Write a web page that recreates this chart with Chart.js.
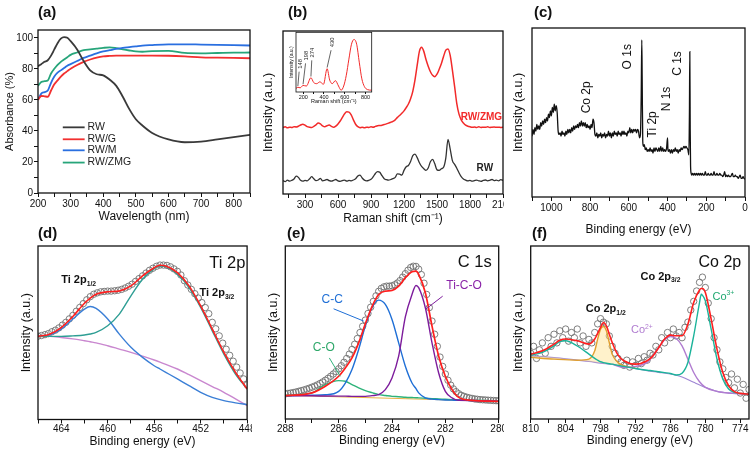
<!DOCTYPE html>
<html lang="en">
<head>
<meta charset="UTF-8">
<title>Absorbance, Raman and XPS panels</title>
<script src="https://cdn.jsdelivr.net/npm/chart.js"></script>
<style>
  body { margin: 0; background: #fff; }
  #wrap { position: relative; width: 756px; height: 458px; overflow: hidden; background: #fff; }
  canvas { position: absolute; }
</style>
</head>
<body>
<div id="wrap">
  <canvas id="ca" width="252" height="229" style="left:0;top:0"></canvas>
  <canvas id="cb" width="252" height="229" style="left:252px;top:0"></canvas>
  <canvas id="cbi" width="96" height="76" style="left:283px;top:29px"></canvas>
  <canvas id="cc" width="252" height="240" style="left:504px;top:0"></canvas>
  <canvas id="cd" width="252" height="236" style="left:0;top:222px"></canvas>
  <canvas id="ce" width="252" height="236" style="left:252px;top:222px"></canvas>
  <canvas id="cf" width="252" height="236" style="left:504px;top:222px"></canvas>
</div>
<script>
// (a) absorbance
const wl = [200,210,220,230,240,250,260,270,280,290,300,320,340,360,380,400,420,440,460,480,500,520,550,600,650,700,750,800,850];
const absRW  = [81.7,83,84.5,85.5,88.5,92.5,96.5,99.4,100.4,100,97.8,92.5,85,79,76.5,75.8,73,69,62,54,47.5,43.5,38.7,34.5,32.7,33.1,34.5,36,37.5];
const absG   = [60,62.5,62.3,62,66,70,72.5,75,77,78.5,80,82.5,84.5,86,87.2,88,88.3,88.5,88.5,88.5,88.5,88.5,88.5,88.4,88,87.4,87.2,87,86.8];
const absM   = [60,64,65,66,71,75,77.5,79,80.5,82,83,85,87,88.5,90,91.2,92,92.8,93.5,94,94.5,95,95.3,95.7,95.8,95.6,95.4,95.2,95];
const absZMG = [69,71.5,72,72.5,77,80,82.5,84.5,86,87.5,89,90.5,92,92.5,93,93.5,93.8,93.3,92.5,91.8,91.2,91,91.4,91.6,90.2,90,90.2,90.4,90.5];
const absNames = ['RW', 'RW/G', 'RW/M', 'RW/ZMG'];

// (b) Raman
const ramanX = [100,120,140,160,180,200,220,240,260,280,300,320,340,360,380,400,420,440,460,480,500,520,540,560,580,600,620,640,660,680,700,720,740,760,780,800,820,840,860,880,900,920,940,960,980,1000,1020,1040,1060,1080,1100,1120,1140,1160,1180,1200,1220,1240,1260,1280,1300,1320,1340,1360,1380,1400,1420,1440,1460,1480,1500,1520,1540,1560,1580,1600,1620,1640,1660,1680,1700,1720,1740,1760,1780,1800,1820,1840,1860,1880,1900,1920,1940,1960,1980,2000,2020,2040,2060,2080,2100];
const ramanRW = [8.2,7.6,8.5,7.9,8.4,9.2,11,10.2,8.4,7.9,8.3,8.1,9.2,10.6,9.3,8.2,8.6,9.6,8.1,8.4,8.9,8.2,7.9,8.3,8.9,8.1,7.8,8.2,8.5,7.9,8.3,8.1,8.6,9.3,11,11.6,9.8,8.5,8.1,8.4,9,10.6,12.6,13.7,13.3,11.2,9.4,8.8,8.5,8.9,9.4,10.2,12.3,12.2,11.6,14.5,16.7,17.5,20,23.5,24.5,22.3,19.2,16.9,15.5,14.5,16,19.8,21.2,18.5,14.8,14.5,15.5,16.4,22,33.5,27.5,20.5,18.2,15.8,13,10.6,9.2,8.5,8,8.3,7.9,8.2,8.5,8.1,7.8,8.3,8.6,8.1,8.4,8.9,8.2,8.5,8.1,8.8,8.4];
const ramanZMG = [40.8,41.2,40.6,41,40.8,41.3,41.1,41.6,42.3,42.8,42.2,41.3,41,40.8,41.5,42.4,43.5,43,41.8,41.2,41.9,42.3,41.5,40.9,41.6,43,44.8,47,49.2,50.4,50.2,48.5,45.5,42.8,41.3,40.7,40.9,40.6,41,40.8,41.2,41,41.5,41.9,42,42.2,42.6,43,43.5,44,44.6,45.5,47,48.2,49.5,51,53,55.2,58.5,63,70,79,87.5,90,87.5,82.5,78.4,75,72.8,72,73.5,76.5,80,84.5,88.2,89,85,76,66,55.5,49,45.5,43.5,42.2,41.6,41.2,40.9,41.1,40.8,41.2,40.8,41,40.9,41.2,40.8,41,41.1,40.9,41,40.8,41];
const insetX = [130,148,170,198,230,274,300,330,360,395,430,455,480,510,540,565,590,615,640,665,690,715,740,765,790,820,860];
const insetY = [6,8,7,11,10,24,16,14,17,13,39,20,14,19,10,3,10,28,55,80,88,80,50,22,9,4,3];
const insetPeaks = ['148', '198', '274', '430'];

// (c) XPS survey
const surveyBE = [1100,1095,1090,1085,1080,1075,1070,1065,1060,1055,1050,1045,1040,1035,1030,1025,1020,1015,1010,1005,1000,995,990,985,980,975,970,965,960,955,950,945,940,935,930,925,920,915,910,905,900,895,890,885,880,875,870,865,860,855,850,845,840,835,830,825,820,815,810,805,800,795,790,785,780,775,770,765,760,755,750,745,740,735,730,725,720,715,710,705,700,695,690,685,680,675,670,665,660,655,650,645,640,635,630,625,620,615,610,605,600,595,590,585,580,575,570,565,560,555,550,545,540,536,533,531,528,525,520,515,510,505,500,495,490,485,480,475,470,465,460,455,450,445,440,435,430,425,420,415,410,405,400,398,395,390,385,380,375,370,365,360,355,350,345,340,335,330,325,320,315,310,305,300,295,290,287,285,283,281,278,275,270,265,260,255,250,245,240,235,230,225,220,215,210,205,200,195,190,185,180,175,170,165,160,155,150,145,140,135,130,125,120,115,110,105,100,95,90,85,80,75,70,65,60,55,50,45,40,35,30,25,20,15,10,5,0];
const surveyInt = [36,40,37,41,39,43,40,42,40,44,42,45,43,46,44,47,45,49,47,51,48,53,50,55,51,54,50,39,37,38,36,39,37,38,36,39,37,40,38,40,38,41,39,42,40,42,41,43,41,44,42,45,42,44,42,44,41,43,41,42,40,43,41,46,44,37,36,38,35,37,36,38,35,37,36,38,35,37,36,39,36,38,35,38,36,39,37,38,36,39,37,38,36,39,37,39,37,38,36,39,38,41,38,40,38,40,39,40,38,40,39,35,37,60,93,70,33,30,31,28,29,27,28,27,29,27,28,26,29,27,29,28,27,29,27,30,27,29,27,28,27,29,35,28,27,28,26,28,26,28,27,29,27,28,26,28,27,29,28,29,30,29,30,29,28,25,50,86,40,18,14,13,14,13,14,13,14,13,14,13,14,13,14,13,13,15,13,13,14,13,13,14,13,13,15,13,13,14,13,13,14,13,13,12,13,15,12,13,12,13,12,12,13,14,12,12,13,12,12,11,12,13,11,11,12,11,10.5];

// (d) Ti 2p
const tiFitX = [466,465,464,463,462,461.5,461,460,459,458,457,456,455.5,455,454,453,452,451,450,449,448];
const tiEnv  = [47.9,49.2,53,59.4,67,70,72.2,73.6,74.1,77,82.8,87.5,88.9,88.5,84.7,77,65.5,52.1,38.7,27.2,17.6];
const ti2p12 = [47.9,48.7,52.1,57.9,63.6,65.1,64,57.9,49.2,41.6,35.8,31,29.1,27.2,23.4,19.5,15.7,12.8,10.9,9.6,8.6];
const ti2p32 = [47.9,47.9,47.9,48.2,48.7,49.3,50.2,54,60.7,71.3,80.8,87,88.5,88.1,83.7,76,64.6,51.1,37.7,26.2,17.6];
const tiBg   = [47.9,47.9,47.3,46.5,45.4,44.8,44.2,42.5,40.6,38.7,36.5,34.3,33.1,31.8,29.1,25.8,22.4,19,15.7,11.9,8];
const tiDotX = [466,465.7,465.4,465.1,464.8,464.5,464.2,463.9,463.6,463.3,463,462.7,462.4,462.1,461.8,461.5,461.2,460.9,460.6,460.3,460,459.7,459.4,459.1,458.8,458.5,458.2,457.9,457.6,457.3,457,456.7,456.4,456.1,455.8,455.5,455.2,454.9,454.6,454.3,454,453.7,453.4,453.1,452.8,452.5,452.2,451.9,451.6,451.3,451,450.7,450.4,450.1,449.8,449.5,449.2,448.9,448.6,448.3,448];
const tiDotY = [48,48.4,48.9,49.5,50.6,51.5,52.8,54.4,56,58,60,62.4,64.6,66.8,69,70.8,72.2,73,73.6,73.8,74,74,74.2,74.5,75,75.8,76.8,78,79.6,81.2,82.8,84.4,86,87.2,88.3,89,89,88.8,88,86.8,85.4,83.3,80,77.5,75,72.5,70,67.4,64.5,61,56,52.3,48.2,44,40.5,37,33.6,30.2,26.8,23.4,20];

// (e) C 1s
const cFitX = [288,287,286.5,286,285.75,285.5,285.25,285,284.75,284.5,284.25,284,283.75,283.5,283.25,283.1,283,282.75,282.5,282.25,282,281.75,281.5,281,280];
const cEnv  = [13.5,15.1,18.9,24.7,29.5,35.3,44,55,65,72,73.9,74.3,76.8,81.7,85.1,85.5,83.6,73,53.7,36.3,24.7,17,12.5,10.8,10.2];
const cCC   = [13.5,13.8,14,16,20.8,28.6,40.2,53.7,64.3,68.7,66.2,57.5,44,30.5,20.8,17.5,15.1,12.2,11.5,11.2,11,10.9,10.8,10.7,10.2];
const cTiCO = [13.5,13.4,13.3,13.2,13.2,13.1,13.1,13.1,13.5,14.1,17,23.7,36.3,59,72,77.2,75.9,64.3,44,26.6,16,12.2,10.8,10.7,10.2];
const cCO   = [13.7,15.1,19.9,22.2,21.8,19.9,18,16.4,15.2,14.1,13.6,13.1,12.9,12.6,12.4,12.3,12.2,12,11.8,11.6,11.4,11.2,11,10.8,10.4];
const cBaseX = [288,280];
const cBase  = [13.7,10.2];
const cDotX = [288,287.9,287.8,287.7,287.6,287.5,287.4,287.3,287.2,287.1,287,286.9,286.8,286.7,286.6,286.5,286.4,286.3,286.2,286.1,286,285.9,285.8,285.7,285.6,285.5,285.4,285.3,285.2,285.1,285,284.9,284.8,284.7,284.6,284.5,284.4,284.3,284.2,284.1,284,283.9,283.8,283.7,283.6,283.5,283.4,283.3,283.2,283.1,283,282.9,282.8,282.7,282.6,282.5,282.4,282.3,282.2,282.1,282,281.9,281.8,281.7,281.6,281.5,281.4,281.3,281.2,281.1,281,280.9,280.8,280.7,280.6,280.5,280.4,280.3,280.2,280.1,280];
const cDotY = [14.5,14.8,15,15.3,15.6,16,16.4,16.8,17.3,17.8,18.4,19,19.7,20.5,21.4,22.4,23.5,24.7,26,27.4,29,30.8,32.8,35,37.5,40.2,43.2,46.5,50,53.6,57.2,61,64.6,68,71.2,73.8,75.5,76.4,76.8,76.8,77,77.6,78.6,80,82,84,86,87.6,88.3,88.2,86.6,83.5,78.5,72,64.4,56.6,49,42,35.8,30.4,26,22.4,19.6,17.4,15.8,14.6,13.7,13.1,12.6,12.2,11.9,11.6,11.4,11.2,11.1,11,10.9,10.8,10.7,10.6,10.5];

// (f) Co 2p
const coFitX = [810,808,806,805,804,802,800,799,798.5,798,797.5,797,796.5,796,795,794,792,790,789,788,787,786,785,784,783,782,781,780.7,780.5,780,779,778,777,776,775,774,772.5];
const coEnv  = [37.5,39.4,43.3,45.5,46.2,45.2,43.3,46.2,49.5,52.9,55.8,53.8,49,44.2,36.9,33.7,31.7,33.7,36.5,41.3,46.2,48.5,48.1,48.1,54.8,67.3,74.6,75.4,75.4,73.1,57.7,40.4,26.9,19.2,15.8,14.8,14.4];
const coTeal = [36.9,38.5,42.3,44.8,45.2,42.2,37.5,35,34,33.1,32.6,32.2,31.9,31.7,31,30.4,29.2,28.2,27.8,27.3,26.8,26.3,25.4,26.5,32.7,48.1,67.3,72.1,71.5,68.3,51.9,34.6,23.1,17.3,15.4,14.8,14.4];
const coBgX  = [810,806,802,800,798,796,794,792,790,788,786,784,782,780,778,776,774,772.5];
const coBg   = [36.5,35.5,34,33.3,32.3,31.5,30.3,29.2,27.9,27,26,24.3,21.2,18.3,16,15,14.6,14.4];
const coGoldX = [810,806,802,800,799,798.5,798,797.5,797,796.5,796,795,794,792];
const coGold  = [35.6,34.6,34,34.6,39.4,46.2,51.9,53.5,51,44.2,37.5,32.7,30.8,29.5];
const co2X = [796,794,792,790,789,788,787,786,785,784,783,782,781,780,778,776,774,772.5];
const co2  = [31.7,29.8,30.4,32.7,36.5,41.3,45.8,47.7,46.5,42.3,34.6,26.9,21.5,18.3,16,15,14.6,14.4];
const coDotX = [810,809.5,809,808.5,808,807.5,807,806.5,806,805.5,805,804.5,804,803.5,803,802.5,802,801.5,801,800.5,800,799.5,799,798.5,798,797.5,797,796.5,796,795.5,795,794.5,794,793.5,793,792.5,792,791.5,791,790.5,790,789.5,789,788.5,788,787.5,787,786.5,786,785.5,785,784.5,784,783.5,783,782.5,782,781.5,781,780.5,780,779.5,779,778.5,778,777.5,777,776.5,776,775.5,775,774.5,774,773.5,773,772.5];
const coDotY = [38,42,35,40,44,38,47,42,49,44,51,47,52,45,50,47,52,44,48,42,46,44,50,55,58,56,55,48,42,38,35,33,31,34,30,33,31,35,32,36,34,38,37,42,40,47,44,50,47,52,48,50,47,53,56,63,68,74,79,82,76,67,58,47,40,33,29,24,21,26,18,23,15,20,12,17];

const FF = "'Liberation Sans', Arial, Helvetica, sans-serif";
Chart.defaults.font.family = FF;
Chart.defaults.color = '#111';

const pts = (xs, ys) => xs.map((x, i) => ({ x: x, y: ys[i] }));

function line(xs, ys, color, extra) {
  return Object.assign({ data: pts(xs, ys), showLine: true, borderColor: color, backgroundColor: color,
    borderWidth: 1.4, pointRadius: 0, tension: 0.35, cubicInterpolationMode: 'monotone' }, extra || {});
}
function dots(xs, ys) {
  return { data: pts(xs, ys), showLine: false, pointRadius: 3.2, pointBorderWidth: 0.9,
    pointBorderColor: '#707070', pointBackgroundColor: 'rgba(255,255,255,0)' };
}

function xAxis(min, max, step, major, title, o) {
  return {
    type: 'linear', min: min, max: max, reverse: !!o.rev,
    ticks: { stepSize: step, autoSkip: false, maxRotation: 0, minRotation: 0, includeBounds: false,
      padding: o.tp === undefined ? 1 : o.tp, font: { size: o.fs || 10 },
      callback: v => Math.abs(v / major - Math.round(v / major)) < 1e-6 ? v : '' },
    grid: { drawOnChartArea: false, tickLength: o.tl || 4, tickColor: '#111', tickWidth: 1 },
    border: { display: false },
    title: { display: true, text: title, font: { size: o.ts || 12 }, padding: { top: 0, bottom: o.pb } },
    afterFit: s => { s.height = o.h; s.paddingLeft = 0; s.paddingRight = 0; }
  };
}
function yPlain(title, w, pt, size) {
  return {
    type: 'linear', min: 0, max: 100,
    ticks: { display: false }, grid: { display: false }, border: { display: false },
    title: { display: true, text: title, font: { size: size || 12.5 }, padding: { top: pt, bottom: 0 } },
    afterFit: s => { s.width = w; s.paddingTop = 0; s.paddingBottom = 0; }
  };
}

const frame = {
  id: 'frame',
  afterDatasetsDraw(c) {
    const a = c.chartArea, ctx = c.ctx;
    ctx.save();
    ctx.strokeStyle = '#111';
    ctx.lineWidth = c.options.frameWidth || 1.3;
    ctx.strokeRect(a.left, a.top, a.right - a.left, a.bottom - a.top);
    ctx.restore();
  }
};

const P = (c, x, y) => [c.scales.x.getPixelForValue(x), c.scales.y.getPixelForValue(y)];

function txt(ctx, s, x, y, font, color, align, rot) {
  ctx.save();
  ctx.translate(x, y);
  if (rot) ctx.rotate(rot);
  ctx.font = font;
  ctx.fillStyle = color;
  ctx.textAlign = align || 'center';
  ctx.textBaseline = 'middle';
  ctx.fillText(s, 0, 0);
  ctx.restore();
}
// parts: [text, 0 normal | 1 subscript | 2 superscript]
function rich(ctx, parts, x, y, size, weight, color, align) {
  ctx.save();
  ctx.fillStyle = color;
  ctx.textBaseline = 'alphabetic';
  ctx.textAlign = 'left';
  const fonts = parts.map(p => weight + ' ' + (p[1] ? size * 0.62 : size) + 'px ' + FF);
  let w = 0;
  const ws = parts.map((p, i) => { ctx.font = fonts[i]; const m = ctx.measureText(p[0]).width; w += m; return m; });
  let cx = align === 'center' ? x - w / 2 : align === 'right' ? x - w : x;
  const base = y + size * 0.36;
  parts.forEach((p, i) => {
    ctx.font = fonts[i];
    const dy = p[1] === 1 ? size * 0.22 : p[1] === 2 ? -size * 0.42 : 0;
    ctx.fillText(p[0], cx, base + dy);
    cx += ws[i];
  });
  ctx.restore();
}
function seg(ctx, a, b, color, w) {
  ctx.save();
  ctx.strokeStyle = color;
  ctx.lineWidth = w || 1;
  ctx.beginPath();
  ctx.moveTo(a[0], a[1]);
  ctx.lineTo(b[0], b[1]);
  ctx.stroke();
  ctx.restore();
}
function letter(ctx, s, x, y) {
  txt(ctx, s, x, y, 'bold 15px ' + FF, '#111', 'left');
}

function make(id, datasets, o) {
  return new Chart(document.getElementById(id), {
    type: 'scatter',
    data: { datasets: datasets },
    options: {
      responsive: false, animation: false, events: [],
      frameWidth: o.fw,
      layout: { padding: { left: 0, top: o.top, right: o.right, bottom: 0 } },
      plugins: { legend: { display: false }, tooltip: { enabled: false } },
      scales: { x: o.x, y: o.y }
    },
    plugins: [frame, { id: 'notes', beforeDatasetsDraw: o.before, afterDraw: o.notes }]
  });
}

const absColors = ['#3a3a3a', '#f23030', '#2a6fe0', '#27a57a'];

// (a)
make('ca', [
  line(wl, absRW, absColors[0], { borderWidth: 1.8 }),
  line(wl, absG, absColors[1], { borderWidth: 1.8 }),
  line(wl, absM, absColors[2], { borderWidth: 1.8 }),
  line(wl, absZMG, absColors[3], { borderWidth: 1.8 })
], {
  top: 30, right: 2,
  x: xAxis(200, 850, 50, 100, 'Wavelength (nm)', { h: 36, pb: 5.5 }),
  y: {
    type: 'linear', min: 0, max: 105,
    ticks: { stepSize: 10, includeBounds: false, padding: 1, font: { size: 10 }, callback: v => v % 20 === 0 ? v : '' },
    grid: { drawOnChartArea: false, tickLength: 4, tickColor: '#111' },
    border: { display: false },
    title: { display: true, text: 'Absorbance (%)', font: { size: 11 }, padding: { top: 3.4, bottom: 0 } },
    afterFit: s => { s.width = 38; s.paddingTop = 0; s.paddingBottom = 0; }
  },
  notes(c) {
    const ctx = c.ctx;
    letter(ctx, '(a)', 38, 12.5);
    const ly = [42.3, 34.6, 27.5, 19.6];
    absNames.forEach((n, i) => {
      const a = P(c, 276, ly[i]), b = P(c, 343, ly[i]);
      seg(ctx, a, b, absColors[i], 1.8);
      txt(ctx, n, P(c, 352, 0)[0], a[1], '10.5px ' + FF, '#222', 'left');
    });
  }
});

// (b)
make('cb', [
  line(ramanX, ramanZMG, '#f22a2a', { tension: 0.2, borderWidth: 1.5 }),
  line(ramanX, ramanRW, '#333', { tension: 0, borderWidth: 1.3 })
], {
  top: 31, right: 1,
  x: xAxis(100, 2100, 150, 300, 'Raman shift (cm\u207B\u00B9)', { h: 35, pb: 3 }),
  y: yPlain('Intensity (a.u.)', 31, 9.2),
  notes(c) {
    const ctx = c.ctx;
    letter(ctx, '(b)', 36, 12.5);
    const z = P(c, 2092, 47.3), r = P(c, 1935, 15.7);
    txt(ctx, 'RW/ZMG', z[0], z[1], 'bold 10px ' + FF, '#f22a2a', 'right');
    txt(ctx, 'RW', r[0], r[1], 'bold 10px ' + FF, '#222', 'center');
  }
});

// (b) inset: [text x, text y, leader start x, y, leader end x, y]
const insetLab = [[168, 47, 160, 34, 148, 10], [235, 61, 222, 48, 198, 13], [292, 66, 282, 53, 274, 26], [482, 83, 468, 70, 430, 41]];
make('cbi', [
  line(insetX, insetY, '#f22a2a', { borderWidth: 1 })
], {
  top: 3.3, right: 7.3, fw: 0.8,
  x: xAxis(130, 860, 100, 200, 'Raman shift (cm\u207B\u00B9)', { h: 13, pb: 0, fs: 5.5, ts: 5.5, tl: 2, tp: 0.5 }),
  y: yPlain('Intensity (a.u.)', 13, 5.2, 5),
  before(c) {
    const a = c.chartArea, ctx = c.ctx;
    ctx.save(); ctx.fillStyle = '#fff'; ctx.fillRect(a.left, a.top, a.right - a.left, a.bottom - a.top); ctx.restore();
  },
  notes(c) {
    const ctx = c.ctx;
    insetLab.forEach((l, i) => {
      const t = P(c, l[0], l[1]);
      txt(ctx, insetPeaks[i], t[0], t[1], '5.8px ' + FF, '#222', 'center', -Math.PI / 2);
      seg(ctx, P(c, l[2], l[3]), P(c, l[4], l[5]), '#222', 0.7);
    });
  }
});

// (c)
make('cc', [
  line(surveyBE, surveyInt, '#111', { tension: 0, borderWidth: 1.3 })
], {
  top: 28, right: 11,
  x: xAxis(0, 1100, 100, 200, 'Binding energy (eV)', { h: 43, pb: 3.3, rev: true }),
  y: yPlain('Intensity (a.u.)', 28, 7.5),
  notes(c) {
    const ctx = c.ctx;
    letter(ctx, '(c)', 30, 12.5);
    const labs = [['Co 2p', 816, 59], ['O 1s', 605, 83], ['Ti 2p', 479, 43], ['N 1s', 405, 58], ['C 1s', 347, 79]];
    labs.forEach(l => {
      const p = P(c, l[1], l[2]);
      txt(ctx, l[0], p[0], p[1], '12px ' + FF, '#111', 'center', -Math.PI / 2);
    });
  }
});

// (d)
make('cd', [
  line(tiFitX, tiEnv, '#ff1f1f', { borderWidth: 1.6 }),
  line(tiFitX, ti2p32, '#2e9e94'),
  line(tiFitX, ti2p12, '#3b7fd6'),
  line(tiFitX, tiBg, '#c987cf'),
  dots(tiDotX, tiDotY)
], {
  top: 24, right: 1.3,
  x: xAxis(448, 466, 2, 4, 'Binding energy (eV)', { h: 38.5, pb: 9.5, rev: true, tp: 0 }),
  y: yPlain('Intensity (a.u.)', 38, 19.2),
  notes(c) {
    const ctx = c.ctx;
    letter(ctx, '(d)', 38, 12);
    const t = P(c, 449.7, 90.2);
    txt(ctx, 'Ti 2p', t[0], t[1], '16.5px ' + FF, '#111', 'center');
    const a = P(c, 462.5, 80.8), b = P(c, 450.6, 73.2);
    rich(ctx, [['Ti 2p', 0], ['1/2', 1]], a[0], a[1], 11, 'bold', '#111', 'center');
    rich(ctx, [['Ti 2p', 0], ['3/2', 1]], b[0], b[1], 11, 'bold', '#111', 'center');
  }
});

// (e)
make('ce', [
  line(cFitX, cEnv, '#ff1f1f', { borderWidth: 1.7 }),
  line(cFitX, cTiCO, '#7d1c9c'),
  line(cFitX, cCC, '#1f6fd6'),
  line(cFitX, cCO, '#2fb37a'),
  line(cBaseX, cBase, '#e8b245', { borderWidth: 1, tension: 0 }),
  dots(cDotX, cDotY)
], {
  top: 24, right: 5.3,
  x: xAxis(280, 288, 1, 2, 'Binding energy (eV)', { h: 39, pb: 10.5, rev: true, tp: 0 }),
  y: yPlain('Intensity (a.u.)', 33.3, 14.2),
  notes(c) {
    const ctx = c.ctx;
    letter(ctx, '(e)', 35, 12);
    const t = P(c, 280.9, 90.3);
    txt(ctx, 'C 1s', t[0], t[1], '16.5px ' + FF, '#111', 'center');
    const cc = P(c, 286.24, 69.1), tc = P(c, 281.3, 76.8), co = P(c, 286.56, 41.1);
    txt(ctx, 'C-C', cc[0], cc[1], '12px ' + FF, '#1f6fd6', 'center');
    txt(ctx, 'Ti-C-O', tc[0], tc[1], '12px ' + FF, '#8a24a8', 'center');
    txt(ctx, 'C-O', co[0], co[1], '12px ' + FF, '#2fa86a', 'center');
    seg(ctx, P(c, 286.19, 63.7), P(c, 285.06, 56.6), '#1f6fd6', 1);
    seg(ctx, P(c, 282.1, 71), P(c, 282.75, 63.3), '#7d1c9c', 1);
    seg(ctx, P(c, 286.35, 35.3), P(c, 285.94, 24.7), '#2fb37a', 1);
  }
});

// (f)
make('cf', [
  line(coFitX, coEnv, '#ff1f1f', { borderWidth: 1.6 }),
  line(coFitX, coTeal, '#1bb39a'),
  line(co2X, co2, '#b07cd0'),
  line(coGoldX, coGold, '#e0a030', { fill: { target: 4 }, backgroundColor: 'rgba(255,226,140,0.45)' }),
  line(coBgX, coBg, '#9f86d4', { borderWidth: 1.2 }),
  dots(coDotX, coDotY)
], {
  top: 24, right: 7,
  x: xAxis(772.5, 810, 3, 6, 'Binding energy (eV)', { h: 39, pb: 10, rev: true, tp: 0 }),
  y: yPlain('Intensity (a.u.)', 26.7, 7.5),
  notes(c) {
    const ctx = c.ctx;
    letter(ctx, '(f)', 28, 12);
    const t = P(c, 777.5, 90.4);
    txt(ctx, 'Co 2p', t[0], t[1], '16px ' + FF, '#111', 'center');
    const a = P(c, 787.7, 82.7), b = P(c, 797.1, 64), d2 = P(c, 790.9, 51.9), d3 = P(c, 776.9, 71.2);
    rich(ctx, [['Co 2p', 0], ['3/2', 1]], a[0], a[1], 11, 'bold', '#111', 'center');
    rich(ctx, [['Co 2p', 0], ['1/2', 1]], b[0], b[1], 11, 'bold', '#111', 'center');
    rich(ctx, [['Co', 0], ['2+', 2]], d2[0], d2[1], 11, 'normal', '#b07cd0', 'center');
    rich(ctx, [['Co', 0], ['3+', 2]], d3[0], d3[1], 11, 'normal', '#1fa870', 'center');
  }
});
</script>
</body>
</html>
